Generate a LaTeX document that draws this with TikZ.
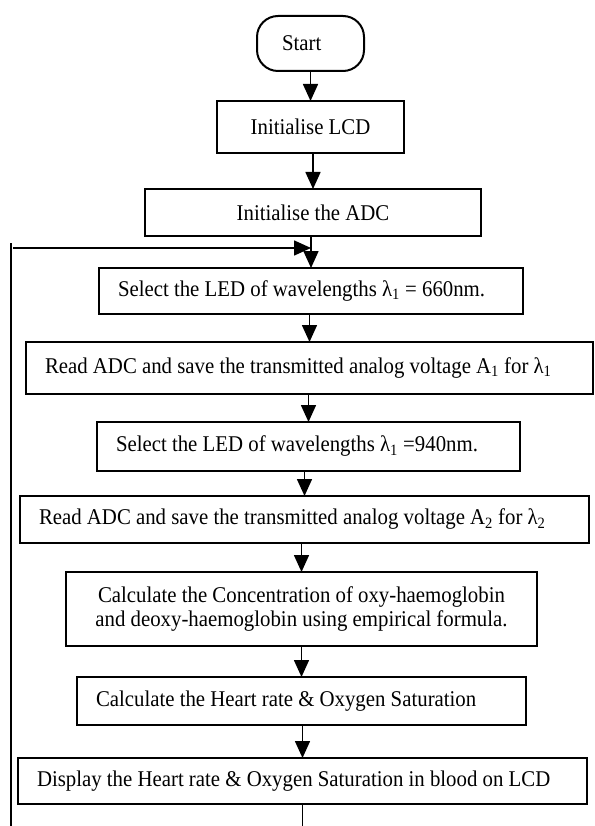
\documentclass[tikz,border=0pt]{standalone}
\usepackage{fontspec}
\setmainfont[FakeStretch=0.925]{Liberation Serif}
\usetikzlibrary{positioning,arrows.meta}

\begin{document}
\begin{tikzpicture}[x=1pt, y=-1pt, node distance = 30pt,
        font=\fontsize{22.5}{24}\selectfont,
        terminal/.style={draw, line width=2pt, outer sep=0pt, rounded corners=21pt,
            minimum height=55pt, inner xsep=25pt, text width=57pt, align=flush left},
        box/.style={draw, line width=2pt, outer sep=0pt, inner sep=0pt, align=center},
        lbox/.style={draw, line width=2pt, outer sep=0pt, inner xsep=19pt, inner ysep=0pt, align=flush left},
        heavy/.style={line width=2.8pt},
        line/.style={line width=1.6pt},
        arr/.style={line, -{Triangle[width=15pt,length=17pt]}}]
    \useasboundingbox (0,0) rectangle (594,826);
    \node [terminal] (start) at (310.5,43.5) {Start};
    \node [box, minimum width=187pt, minimum height=52pt, below=30pt of start]              (lcd)   {Initialise LCD};
    \node [box, minimum width=336pt, minimum height=47pt, below=36pt of lcd, xshift=2.5pt]  (adc)   {Initialise the ADC};
    \node [lbox, heavy, text width=386pt, minimum height=46pt, below=32pt of adc, xshift=-2pt] (led1)
        {Select the LED of wavelengths λ\textsubscript{1} = 660nm.};
    \node [lbox, text width=529pt, minimum height=52pt, below=28pt of led1, xshift=-1.5pt]  (read1)
        {Read ADC and save the transmitted analog voltage A\textsubscript{1} for λ\textsubscript{1}};
    \node [lbox, heavy, text width=385pt, minimum height=49pt, below=28pt of read1, xshift=-1pt] (led2)
        {Select the LED of wavelengths λ\textsubscript{1} =940nm.};
    \node [lbox, text width=531pt, minimum height=47pt, below=25pt of led2, xshift=-4pt]    (read2)
        {Read ADC and save the transmitted analog voltage A\textsubscript{2} for λ\textsubscript{2}};
    \node [box, heavy, minimum width=471pt, minimum height=74pt, below=29pt of read2, xshift=-3pt] (conc)
        {Calculate the Concentration of oxy-haemoglobin\\and deoxy-haemoglobin using empirical formula.};
    \node [lbox, text width=411pt, minimum height=48pt, below=31pt of conc]                 (rate)
        {Calculate the Heart rate \& Oxygen Saturation};
    \node [lbox, text width=531pt, minimum height=46pt, below=33pt of rate, xshift=1pt]    (show)
        {Display the Heart rate \& Oxygen Saturation in blood on LCD};
    % loop back
    \coordinate (looptop) at (11,243);
    \coordinate (loopend) at (11,826);
    \coordinate (loopin)  at (13,248);
    \coordinate (tail)    at (show.south |- loopend);
    \path (lcd.north |- start.south)    edge [arr]  (lcd.north);
    \path (adc.north |- lcd.south)      edge [arr]  (adc.north);
    \path (led1.north |- adc.south)     edge [arr]  (led1.north);
    \path (read1.north |- led1.south)   edge [arr]  (read1.north);
    \path (led2.north |- read1.south)   edge [arr]  (led2.north);
    \path (read2.north |- led2.south)   edge [arr]  (read2.north);
    \path (conc.north |- read2.south)   edge [arr]  (conc.north);
    \path (rate.north |- conc.south)    edge [arr]  (rate.north);
    \path (show.north |- rate.south)    edge [arr]  (show.north);
    \path (show.south)                  edge [line] (tail);
    \path (looptop)                     edge [line] (loopend);
    \path (loopin)                      edge [arr]  (loopin -| led1.north);
\end{tikzpicture}
\end{document}
